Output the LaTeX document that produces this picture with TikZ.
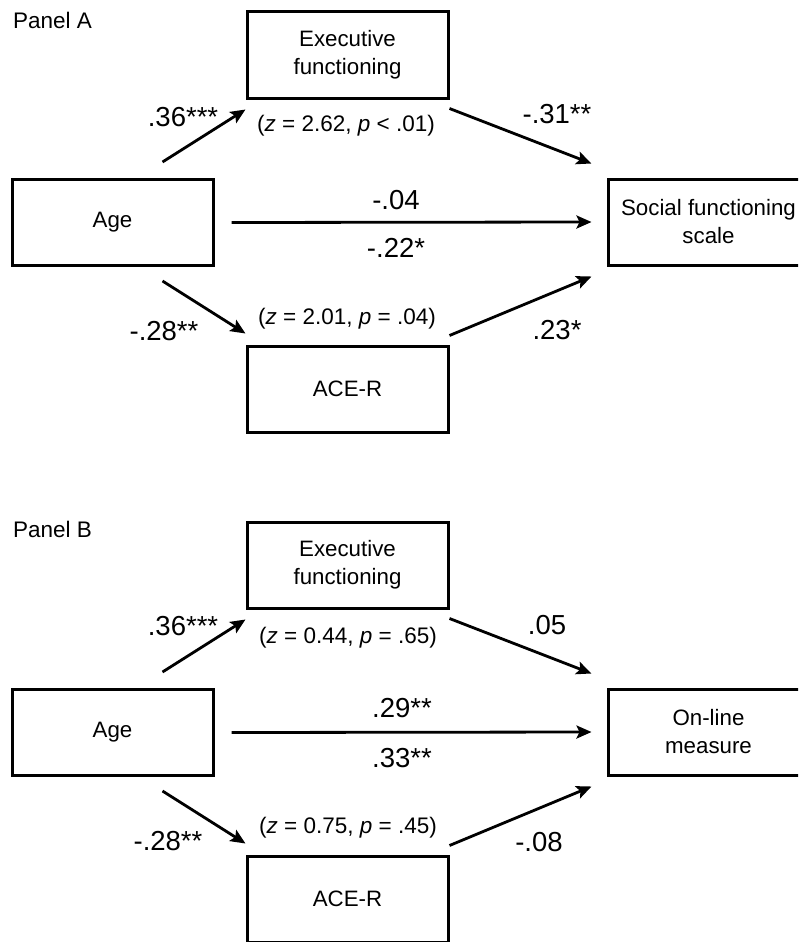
\documentclass[tikz,border=0pt]{standalone}
\usepackage{fontspec}
\setmainfont{Liberation Sans}
\usetikzlibrary{arrows.meta}
\begin{document}
\begin{tikzpicture}[x=1pt,y=-1pt,
  box/.style={draw,line width=3pt,minimum width=201pt,minimum height=86pt,align=center,font=\fontsize{22.3}{28}\selectfont,inner sep=0pt},
  arr/.style={line width=2.8pt,-{Stealth[length=15pt,width=13pt,inset=3pt]}},
  coef/.style={inner sep=0pt,font=\fontsize{27.5}{32}\selectfont},
  zlab/.style={inner sep=0pt,font=\fontsize{22.5}{26}\selectfont},
  plab/.style={inner sep=0pt,anchor=west,font=\fontsize{22.5}{26}\selectfont}]
\useasboundingbox (0,0) rectangle (798,942);
\clip (0,0) rectangle (798,942);
% ---------- Panel A ----------
\node[plab] (pA) at (13,20) {Panel A};
\node[box] (Aexec) at (347.5,55) {Executive\\functioning};
\node[box] (Aage) at (112.5,222.5) {Age};
\node[box] (Aace) at (347.5,389) {ACE-R};
\node[box] (Asoc) at (708.5,222) {Social functioning\\scale};
\draw[arr] ([shift={(50,-16)}]Aage.north) -- ([shift={(0,10)}]Aexec.south west);
\draw[arr] ([shift={(0,9)}]Aexec.south east) -- ([shift={(-15,-14)}]Asoc.north west);
\draw[arr] ([xshift=17pt]Aage.east) -- ([xshift=-15pt]Asoc.west);
\draw[arr] ([shift={(50,14)}]Aage.south) -- ([shift={(0,-11)}]Aace.north west);
\draw[arr] ([shift={(0,-9)}]Aace.north east) -- ([shift={(-15,10)}]Asoc.south west);
\node[coef] (Aa1) at (183,117) {.36***};
\node[zlab] (Az1) at (346,126) {(\textit{z} = 2.62, \textit{p} < .01)};
\node[coef] (Ab1) at (557,114) {-.31**};
\node[coef] (Ac1) at (396,200) {-.04};
\node[coef] (Ac2) at (396,248) {-.22*};
\node[coef] (Aa2) at (164,331) {-.28**};
\node[zlab] (Az2) at (347,319) {(\textit{z} = 2.01, \textit{p} = .04)};
\node[coef] (Ab2) at (557,330) {.23*};
% ---------- Panel B ----------
\node[plab] (pB) at (13,529) {Panel B};
\node[box] (Bexec) at (347.5,565) {Executive\\functioning};
\node[box] (Bage) at (112.5,732.5) {Age};
\node[box] (Bace) at (347.5,899) {ACE-R};
\node[box] (Bon) at (708.5,732) {On-line\\measure};
\draw[arr] ([shift={(50,-16)}]Bage.north) -- ([shift={(0,10)}]Bexec.south west);
\draw[arr] ([shift={(0,9)}]Bexec.south east) -- ([shift={(-15,-14)}]Bon.north west);
\draw[arr] ([xshift=17pt]Bage.east) -- ([xshift=-15pt]Bon.west);
\draw[arr] ([shift={(50,14)}]Bage.south) -- ([shift={(0,-11)}]Bace.north west);
\draw[arr] ([shift={(0,-9)}]Bace.north east) -- ([shift={(-15,10)}]Bon.south west);
\node[coef] (Ba1) at (183,626) {.36***};
\node[zlab] (Bz1) at (348,638) {(\textit{z} = 0.44, \textit{p} = .65)};
\node[coef] (Bb1) at (547,625) {.05};
\node[coef] (Bc1) at (402,708) {.29**};
\node[coef] (Bc2) at (402,758) {.33**};
\node[coef] (Ba2) at (168,841) {-.28**};
\node[zlab] (Bz2) at (348,828) {(\textit{z} = 0.75, \textit{p} = .45)};
\node[coef] (Bb2) at (539,842) {-.08};
\end{tikzpicture}
\end{document}
